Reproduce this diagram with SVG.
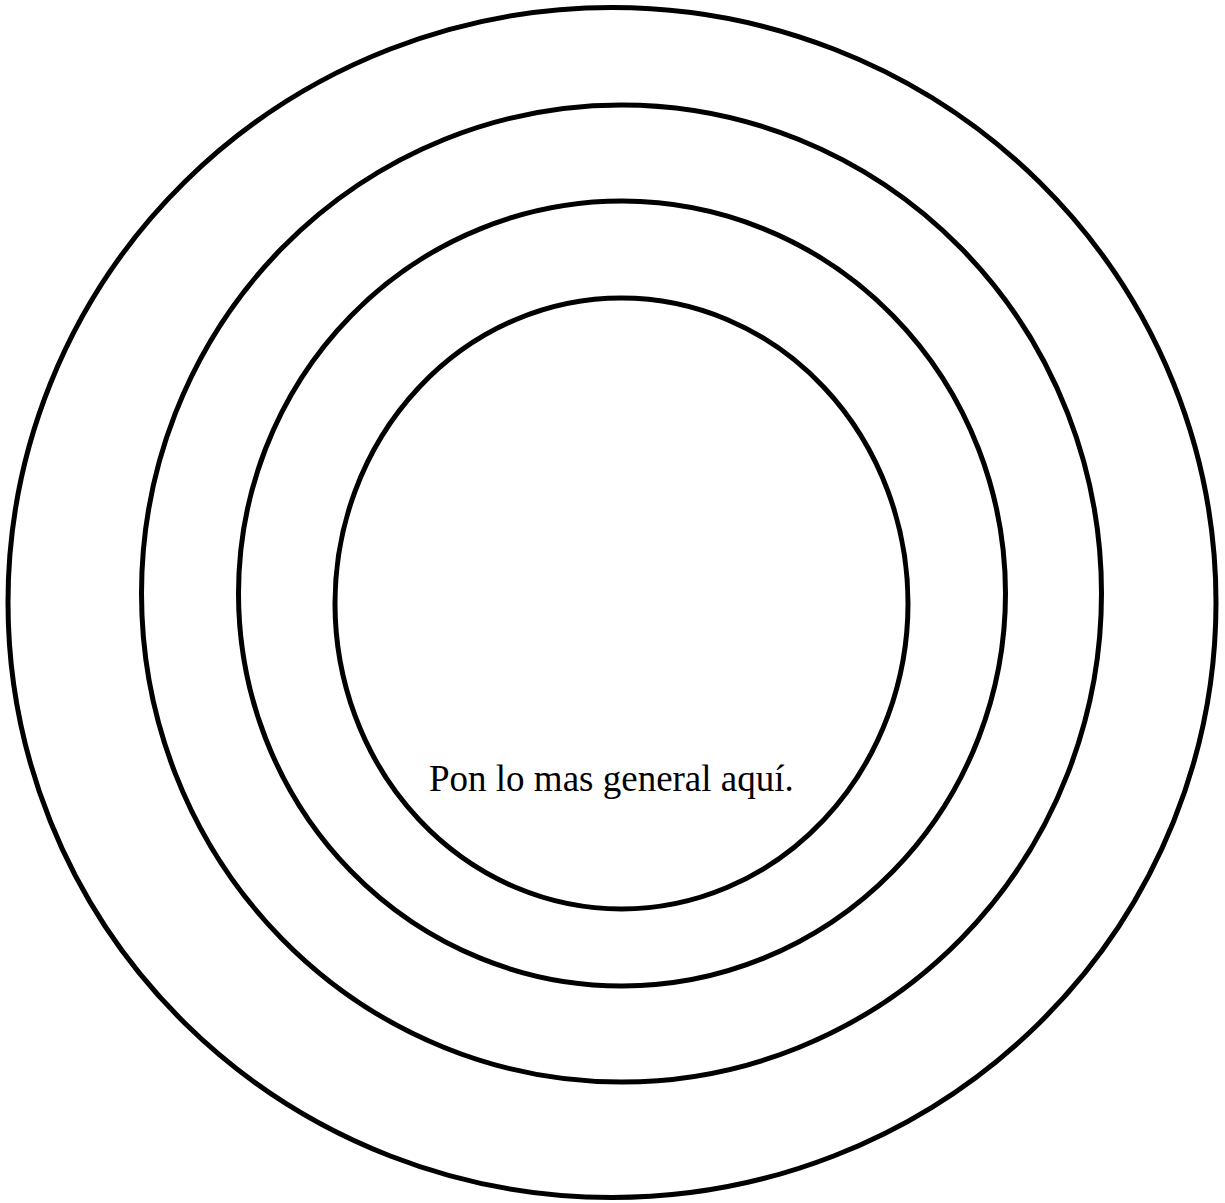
<svg xmlns="http://www.w3.org/2000/svg" width="1225" height="1203" viewBox="0 0 1225 1203">
<style>
.ring{fill:none;stroke:#000;stroke-width:5}
.lbl{font-family:"Liberation Serif","Times New Roman",serif;font-size:37px;fill:#000}
</style>
<rect width="1225" height="1203" fill="#fff"/>
<g id="ring-outer"><ellipse class="ring" cx="612" cy="602.5" rx="604" ry="595"/></g>
<g id="ring-2"><ellipse class="ring" cx="621.5" cy="593.5" rx="480" ry="488.5"/></g>
<g id="ring-3"><ellipse class="ring" cx="622" cy="593.5" rx="383.5" ry="392.5"/></g>
<g id="ring-inner"><ellipse class="ring" cx="621.5" cy="603.5" rx="286.5" ry="305.5"/>
<text class="lbl" x="429" y="791">Pon lo mas general aquí.</text></g>
</svg>
